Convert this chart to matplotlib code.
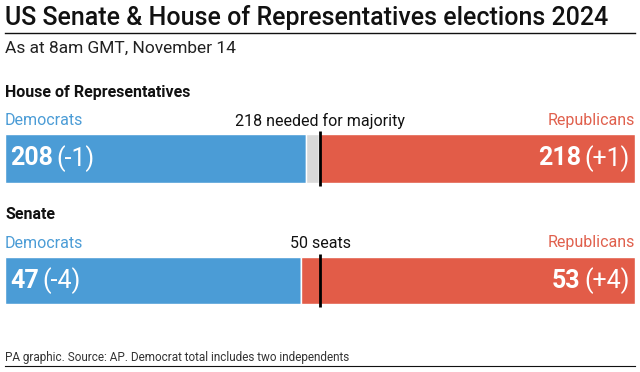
import matplotlib
matplotlib.use("Agg")
import matplotlib.pyplot as plt
from matplotlib.lines import Line2D

plt.rcParams['font.family'] = ['Roboto', 'DejaVu Sans']

# ---- data ----
title = "US Senate & House of Representatives elections 2024"
subtitle = "As at 8am GMT, November 14"
footer = "PA graphic. Source: AP. Democrat total includes two independents"

chambers = ["House of Representatives", "Senate"]
totals = [435, 100]
dem_seats = [208, 47]
dem_change = ["-1", "-4"]
rep_seats = [218, 53]
rep_change = ["+1", "+4"]
threshold_labels = ["218 needed for majority", "50 seats"]

BLUE = "#4b9cd6"
RED = "#e25c48"
GREY = "#d9d9d9"
BLUE_TXT = "#4b9cd6"
RED_TXT = "#e0604d"

W, H = 640, 372
fig = plt.figure(figsize=(W / 100, H / 100), dpi=100)


def fx(px):
    return px / W


def fy(py):
    return 1 - py / H


# title + rule
fig.text(fx(5), fy(18), title, fontsize=18, fontweight='medium', va='center', ha='left', color='#111111')
fig.add_artist(Line2D([fx(5), fx(635)], [fy(33), fy(33)], color='#111111', lw=1.0))
fig.text(fx(5), fy(48), subtitle, fontsize=12.5, va='center', ha='left', color='#222222')

# footer
fig.text(fx(5), fy(357), footer, fontsize=8.5, va='center', ha='left', color='#333333')
fig.add_artist(Line2D([fx(5), fx(635)], [fy(366), fy(366)], color='#111111', lw=0.8))

layout = [
    dict(head=93, lab=121, top=134, bot=183),
    dict(head=214, lab=243, top=257, bot=304),
]

renderer = fig.canvas.get_renderer()

for i, L in enumerate(layout):
    total = totals[i]
    d = dem_seats[i]
    r = rep_seats[i]
    ax = fig.add_axes([fx(5), fy(L['bot']), fx(630), (L['bot'] - L['top']) / H])
    ax.set_xlim(0, total)
    ax.set_ylim(0, 1)
    ax.axis('off')
    ax.barh(0.5, d, left=0, height=1, color=BLUE, edgecolor='white', linewidth=1.0)
    ax.barh(0.5, total - d - r, left=d, height=1, color=GREY, edgecolor='white', linewidth=1.0)
    ax.barh(0.5, r, left=total - r, height=1, color=RED, edgecolor='white', linewidth=1.0)
    ax.plot([total / 2, total / 2], [-0.07, 1.07], color='black', lw=2, clip_on=False, solid_capstyle='butt')

    fig.text(fx(5), fy(L['head']), chambers[i], fontsize=11.5, fontweight='bold', va='center', ha='left', color='#111111')
    fig.text(fx(5), fy(L['lab']), "Democrats", fontsize=11.5, va='center', ha='left', color=BLUE_TXT)
    fig.text(fx(635), fy(L['lab']), "Republicans", fontsize=11.5, va='center', ha='right', color=RED_TXT)
    ax.text(total / 2, fy(L['lab']), threshold_labels[i],
            transform=ax.get_xaxis_transform().__class__(ax.transData, fig.transFigure),
            fontsize=11.5, ha='center', va='center', color='#111111')

    # in-bar labels
    yc = fy((L['top'] + L['bot']) / 2)
    t1 = fig.text(fx(10), yc, str(d), fontsize=18, fontweight='bold', color='white', va='center', ha='left')
    bb = t1.get_window_extent(renderer)
    fig.text(bb.x1 / (W) + fx(4), yc, "(" + dem_change[i] + ")", fontsize=18, color='white', va='center', ha='left')

    t2 = fig.text(fx(630), yc, "(" + rep_change[i] + ")", fontsize=18, color='white', va='center', ha='right')
    bb2 = t2.get_window_extent(renderer)
    fig.text(bb2.x0 / W - fx(4), yc, str(r), fontsize=18, fontweight='bold', color='white', va='center', ha='right')

fig.savefig("out.png", dpi=100)
